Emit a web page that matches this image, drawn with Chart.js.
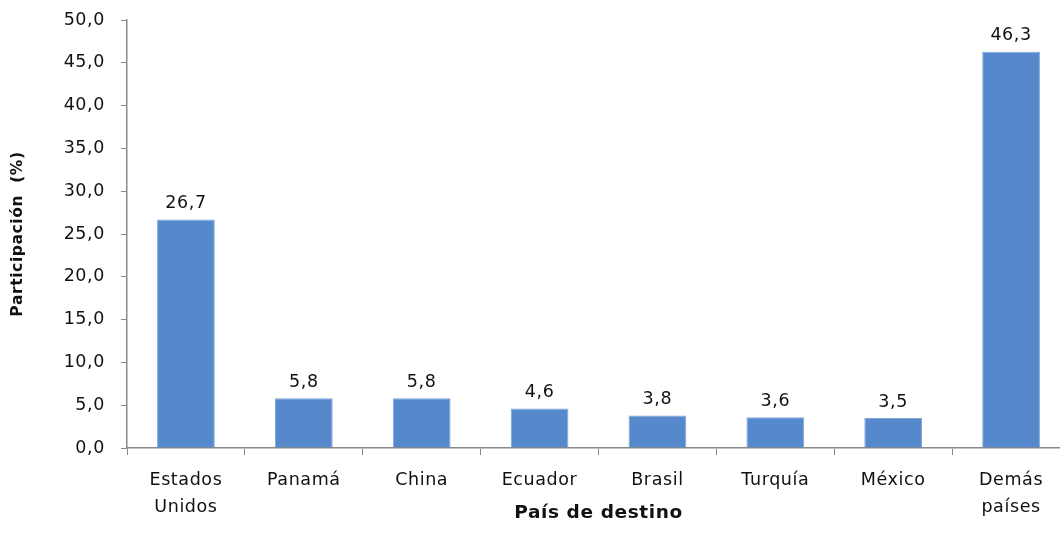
<!DOCTYPE html>
<html>
<head>
<meta charset="utf-8">
<script src="https://cdn.jsdelivr.net/npm/chart.js@4"></script>
<style>
  html, body { margin: 0; padding: 0; background: #fff; overflow: hidden; }
  #wrap { width: 1072px; height: 550px; }
</style>
</head>
<body>
<div id="wrap"><canvas id="chart"></canvas></div>
<script>
const countries = [['Estados', 'Unidos'], 'Panamá', 'China', 'Ecuador', 'Brasil', 'Turquía', 'México', ['Demás', 'países']];
const shares = [26.7, 5.8, 5.8, 4.6, 3.8, 3.6, 3.5, 46.3];

const fmt = v => v.toFixed(1).replace('.', ',');
const FONT = "'DejaVu Sans', Verdana, sans-serif";
const SPACING = '0.6px';

// el texto original es ancho: un poco de espacio entre letras
const wideText = {
  id: 'wideText',
  beforeLayout(chart) { chart.ctx.letterSpacing = SPACING; },
  beforeDraw(chart) { chart.ctx.letterSpacing = SPACING; }
};

// etiquetas de valor sobre cada barra
const barLabels = {
  id: 'barLabels',
  afterDatasetsDraw(chart) {
    const ctx = chart.ctx;
    ctx.save();
    ctx.letterSpacing = SPACING;
    ctx.font = '17.5px ' + FONT;
    ctx.fillStyle = '#111';
    ctx.textAlign = 'center';
    ctx.textBaseline = 'bottom';
    chart.getDatasetMeta(0).data.forEach((bar, i) => {
      ctx.fillText(fmt(shares[i]), bar.x, bar.y - 7);
    });
    ctx.restore();
  }
};

new Chart(document.getElementById('chart'), {
  type: 'bar',
  data: {
    labels: countries,
    datasets: [{
      data: shares,
      backgroundColor: '#5689CB',
      borderColor: '#7FA6D8',
      borderWidth: 1,
      barPercentage: 0.49,
      categoryPercentage: 1
    }]
  },
  options: {
    responsive: true,
    maintainAspectRatio: false,
    animation: false,
    layout: { padding: { top: 20, right: 2, left: 0, bottom: 26 } },
    plugins: { legend: { display: false }, tooltip: { enabled: false } },
    scales: {
      x: {
        grid: { display: true, drawOnChartArea: false, offset: true, tickLength: 7, color: '#898989' },
        border: { color: '#898989', width: 1.5 },
        ticks: { color: '#111', font: { family: FONT, size: 17.5, lineHeight: 1.55 }, maxRotation: 0, padding: 12 },
        title: { display: true, text: 'País de destino', color: '#111', font: { family: FONT, size: 18.5, weight: 'bold' }, padding: 0 },
        afterFit(scale) { scale.height = 76; }
      },
      y: {
        min: 0, max: 50,
        grid: { display: true, drawOnChartArea: false, tickLength: 6, color: '#898989' },
        border: { color: '#898989', width: 1.5 },
        ticks: { stepSize: 5, color: '#111', font: { family: FONT, size: 17.5 }, padding: 16, callback: v => fmt(v) },
        title: { display: true, text: 'Participación  (%)', color: '#111', font: { family: FONT, size: 15.5, weight: 'bold' }, padding: { bottom: 0, top: 9 } },
        afterFit(scale) {
          scale.width = 127;
          // el padding de las marcas no debe empujar el área del gráfico
          scale.paddingTop = 0;
          scale.paddingBottom = 0;
        }
      }
    }
  },
  plugins: [wideText, barLabels]
});
</script>
</body>
</html>
